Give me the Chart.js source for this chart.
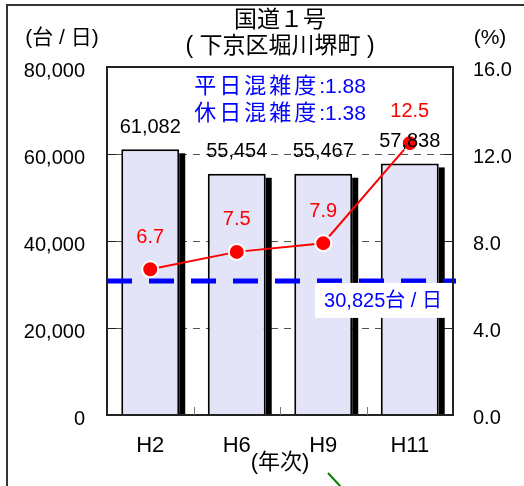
<!DOCTYPE html>
<html lang="ja">
<head>
<meta charset="utf-8">
<title>国道１号（下京区堀川堺町）</title>
<script src="https://cdn.jsdelivr.net/npm/chart.js@4/dist/chart.umd.min.js"></script>
<style>
  html, body { margin: 0; padding: 0; background: #fff; }
  #wrap { width: 524px; height: 486px; position: relative; }
</style>
</head>
<body>
<div id="wrap"><canvas id="trafficChart"></canvas></div>
<script>
const years = ['H2', 'H6', 'H9', 'H11'];
const dailyVolume = [61082, 55454, 55467, 57838];
const largeVehicleRate = [6.7, 7.5, 7.9, 12.5];
const volumeTicks = [0, 20000, 40000, 60000, 80000];
const rateTicks = [0, 4, 8, 12, 16];
const capacity = 30825;
const congestionNames = ['平日混雑度', '休日混雑度'];
const congestionValues = [1.88, 1.38];

const FONT = '"Liberation Sans", Arial, "Noto Sans CJK JP", sans-serif';
Chart.defaults.font.family = FONT;
Chart.defaults.color = '#000';

const fmt = v => v.toLocaleString('en-US');

function line(ctx, x1, y1, x2, y2) {
    ctx.beginPath(); ctx.moveTo(x1, y1); ctx.lineTo(x2, y2); ctx.stroke();
}

const decor = {
    id: 'decor',
    beforeDatasetsDraw(chart) {
        const { ctx, chartArea: a, scales: { y } } = chart;
        ctx.save();
        // dashed grid + short inward ticks on both sides
        ctx.lineWidth = 1;
        volumeTicks.slice(1, -1).forEach(v => {
            const py = Math.round(y.getPixelForValue(v)) + 0.5;
            ctx.strokeStyle = '#555';
            ctx.setLineDash([7, 6]);
            line(ctx, a.left + 8, py, a.right - 8, py);
            ctx.setLineDash([]);
            ctx.strokeStyle = '#222';
            line(ctx, a.left, py, a.left + 9, py);
            line(ctx, a.right - 9, py, a.right, py);
        });
        ctx.restore();
    },
    beforeDatasetDraw(chart, args) {
        if (args.index !== 0) return;
        const { ctx } = chart;
        ctx.save();
        ctx.fillStyle = '#000';
        chart.getDatasetMeta(0).data.forEach(bar => {
            const { x, y, width, base } = bar.getProps(['x', 'y', 'width', 'base'], true);
            ctx.fillRect(x + width / 2, y + 4, 6, base - y - 4);
        });
        ctx.restore();
    },
    afterDatasetsDraw(chart) {
        const { ctx, chartArea: a, scales: { y } } = chart;
        ctx.save();

        // capacity line
        const cy = y.getPixelForValue(capacity);
        ctx.strokeStyle = '#0000ff';
        ctx.lineWidth = 5;
        ctx.setLineDash([25, 17]);
        line(ctx, a.left, cy, a.right + 3, cy);
        ctx.setLineDash([]);

        ctx.font = '20px ' + FONT;
        ctx.textAlign = 'center';
        ctx.textBaseline = 'middle';
        ctx.fillStyle = '#fff';
        ctx.fillRect(a.right - 138, cy + 2, 138, 35);
        ctx.fillStyle = '#0000ff';
        ctx.fillText(fmt(capacity) + '台 / 日', a.right - 70, cy + 21);

        // bar values
        ctx.fillStyle = '#000';
        chart.getDatasetMeta(0).data.forEach((bar, i) => {
            ctx.fillText(fmt(dailyVolume[i]), bar.x, bar.y - 22);
        });

        // rate values
        ctx.fillStyle = '#ff0000';
        chart.getDatasetMeta(1).data.forEach((pt, i) => {
            ctx.fillText(largeVehicleRate[i].toFixed(1), pt.x, pt.y - 32);
        });

        // congestion note: spaced kanji, then the value
        ctx.fillStyle = '#0000ff';
        ctx.textAlign = 'left';
        const mid = (a.left + a.right) / 2;
        congestionNames.forEach((n, i) => {
            const val = ':' + congestionValues[i].toFixed(2);
            ctx.font = '22px ' + FONT;
            ctx.letterSpacing = '3px';
            const w1 = ctx.measureText(n).width;
            ctx.letterSpacing = '0px';
            ctx.font = '21px ' + FONT;
            const w2 = ctx.measureText(val).width;
            const x0 = mid - (w1 + w2) / 2;
            const ty = a.top + 20 + i * 27;
            ctx.font = '22px ' + FONT;
            ctx.letterSpacing = '3px';
            ctx.fillText(n, x0, ty);
            ctx.letterSpacing = '0px';
            ctx.font = '21px ' + FONT;
            ctx.fillText(val, x0 + w1, ty);
        });
        ctx.restore();
    },
    afterDraw(chart) {
        const { ctx, chartArea: a, scales: { x } } = chart;
        ctx.save();
        // plot frame
        ctx.strokeStyle = '#222';
        ctx.lineWidth = 2;
        ctx.strokeRect(a.left, a.top, a.right - a.left, a.bottom - a.top);

        // category separators on the bottom axis
        ctx.lineWidth = 1;
        ctx.strokeStyle = '#777';
        for (let i = 1; i < years.length; i++) {
            const px = Math.round((x.getPixelForValue(i - 1) + x.getPixelForValue(i)) / 2) + 0.5;
            line(ctx, px, a.bottom - 8, px, a.bottom);
        }

        // outer frame
        ctx.strokeStyle = '#333';
        ctx.lineWidth = 2;
        ctx.beginPath();
        ctx.moveTo(7, chart.height);
        ctx.lineTo(7, 5);
        ctx.lineTo(chart.width, 5);
        ctx.stroke();

        // titles and units
        ctx.fillStyle = '#000';
        ctx.textAlign = 'center';
        ctx.textBaseline = 'middle';
        ctx.font = '23px ' + FONT;
        const mid = (a.left + a.right) / 2;
        ctx.fillText('国道１号', mid, 21);
        ctx.fillText('( 下京区堀川堺町 )', mid, 47);
        ctx.font = '21px ' + FONT;
        ctx.fillText('(台 / 日)', 62, 38);
        ctx.fillText('(%)', 490, 38);
        ctx.font = '22px ' + FONT;
        ctx.fillText('(年次)', mid, 463);

        // leader line
        ctx.strokeStyle = '#008000';
        ctx.lineWidth = 2;
        line(ctx, 328, 473, 341, 487);
        ctx.restore();
    }
};

new Chart(document.getElementById('trafficChart'), {
    data: {
        labels: years,
        datasets: [
            {
                type: 'bar',
                label: '交通量',
                data: dailyVolume,
                yAxisID: 'y',
                backgroundColor: '#e4e4f8',
                borderColor: '#000',
                borderWidth: 2,
                borderSkipped: 'bottom',
                categoryPercentage: 1,
                barPercentage: 0.67,
                order: 2
            },
            {
                type: 'line',
                label: '大型車混入率',
                data: largeVehicleRate,
                yAxisID: 'y1',
                borderColor: '#ff0000',
                borderWidth: 2,
                pointRadius: 8,
                pointBackgroundColor: '#ff0000',
                pointBorderColor: '#fff',
                pointBorderWidth: 2,
                order: 1
            }
        ]
    },
    options: {
        responsive: true,
        maintainAspectRatio: false,
        animation: false,
        layout: { padding: { top: 67, left: 0, right: 0, bottom: 0 } },
        plugins: { legend: { display: false }, tooltip: { enabled: false } },
        scales: {
            x: {
                grid: { display: false, drawTicks: false },
                border: { display: false },
                ticks: { font: { size: 22 }, padding: 18 },
                afterFit: s => { s.height = 71; }
            },
            y: {
                position: 'left',
                min: 0, max: 80000,
                afterBuildTicks: s => { s.ticks = volumeTicks.map(v => ({ value: v })); },
                grid: { display: false, drawTicks: false },
                border: { display: false },
                ticks: { font: { size: 20 }, padding: 22, labelOffset: 4, callback: v => fmt(v) },
                afterFit: s => { s.width = 107; }
            },
            y1: {
                position: 'right',
                min: 0, max: 16,
                afterBuildTicks: s => { s.ticks = rateTicks.map(v => ({ value: v })); },
                grid: { display: false, drawTicks: false },
                border: { display: false },
                ticks: { font: { size: 20 }, padding: 20, labelOffset: 3, callback: v => v.toFixed(1) },
                afterFit: s => { s.width = 71; }
            }
        }
    },
    plugins: [decor]
});
</script>
</body>
</html>
